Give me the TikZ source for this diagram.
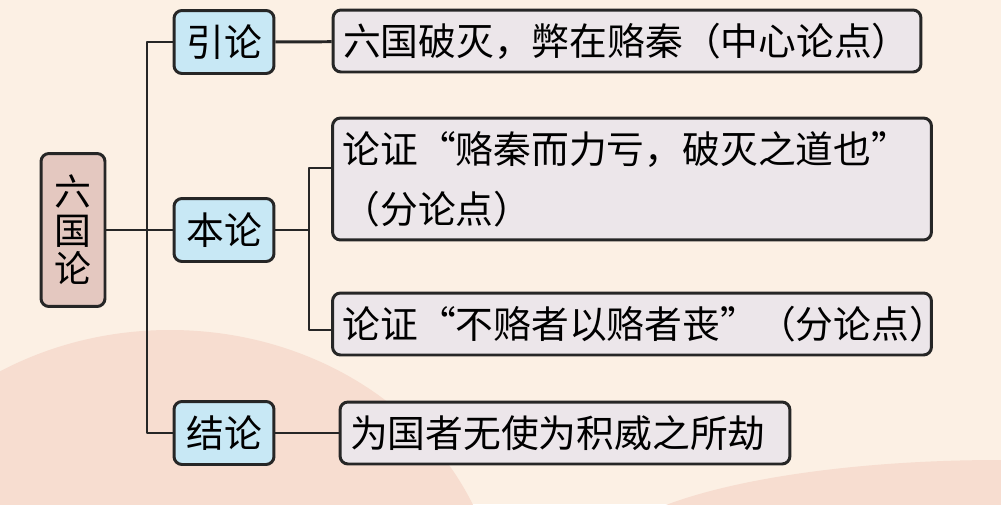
\documentclass[tikz,border=0pt]{standalone}
\usepackage{fontspec}
\setmainfont{Noto Sans CJK SC}
\definecolor{bgc}{HTML}{FCF0E4}
\definecolor{blobc}{HTML}{F7DDD0}
\definecolor{linec}{HTML}{262626}
\definecolor{rootc}{HTML}{E4C8C0}
\definecolor{partc}{HTML}{C8E8F5}
\definecolor{leafc}{HTML}{ECE6EA}
\begin{document}
\begin{tikzpicture}[x=0.02cm,y=-0.02cm,line join=bevel,
  link/.style={draw=linec,line width=1.7pt},
  box/.style={draw=linec,line width=1.7pt,rounded corners=0.16cm,inner xsep=0.2cm,inner ysep=0pt,font=\fontsize{21.5pt}{34pt}\selectfont},
  root/.style={box,fill=rootc,align=center,minimum width=1.28cm,minimum height=3.06cm,font=\fontsize{21pt}{22pt}\selectfont},
  part/.style={box,fill=partc,minimum width=2cm,minimum height=1.26cm},
  leaf/.style={box,fill=leafc,align=left,minimum height=1.24cm},
]

 \begin{scope}
 \clip (0,0) rectangle (1001,504);
 \fill[bgc] (0,0) rectangle (1001,504);
 \fill[blobc] (170,620) ellipse [x radius=330,y radius=290];
 \fill[blobc] (1000,560) ellipse [x radius=400,y radius=100];
 \end{scope}

 \node (node_0) at (73,230) [root] {六\\国\\论};
 \node (node_1) at (224,42) [part] {引论};
 \node (node_2) at (224,230) [part] {本论};
 \node (node_3) at (224,433) [part] {结论};

 \node (node_4) at (627,41) [leaf,text width=11.36cm] {六国破灭，弊在赂秦（中心论点）};
 \node (node_5) at (632,179) [leaf,text width=11.58cm,minimum height=2.44cm] {论证“赂秦而力亏，破灭之道也”\\（分论点）};
 \node (node_6) at (632,324) [leaf,text width=11.58cm] {论证“不赂者以赂者丧”（分论点）};
 \node (node_7) at (565,433) [leaf,text width=8.6cm] {为国者无使为积威之所劫};

 \coordinate (trunk) at (147,230);
 \coordinate (fork_0) at (309,168);
 \coordinate (fork_1) at (309,330);

  \draw [link] (node_0) -- (node_2);
  \draw [link] (node_1.west) -| (trunk) |- (node_3.west);
  \draw [link] (node_1) -- (node_4);
  \draw [link] (node_3) -- (node_7);
  \draw [link] (node_2) -- (node_2 -| fork_0);
  \draw [link] (fork_0 -| node_5.west) -- (fork_0) -- (fork_1) -- (fork_1 -| node_6.west);

\end{tikzpicture}
\end{document}
